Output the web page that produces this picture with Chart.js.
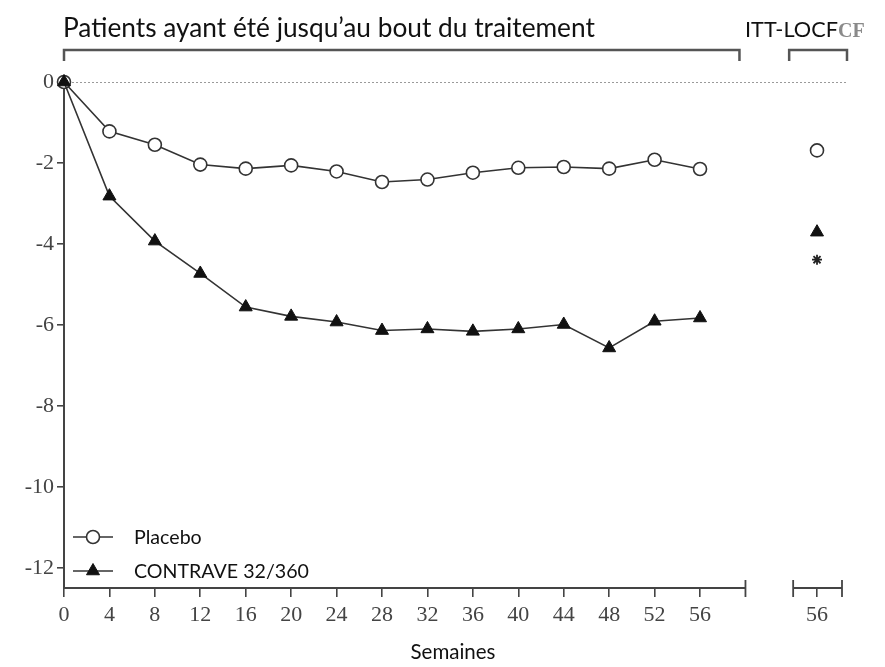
<!DOCTYPE html>
<html>
<head>
<meta charset="utf-8">
<script src="https://cdn.jsdelivr.net/npm/chart.js@4.4.1/dist/chart.umd.min.js"></script>
<style>
  html, body { margin: 0; padding: 0; background: #ffffff; }
  #wrap { width: 885px; height: 667px; }
</style>
</head>
<body>
<div id="wrap"><canvas id="c" width="885" height="667"></canvas></div>
<script>
// ---- Data ----
const weeks = [0, 4, 8, 12, 16, 20, 24, 28, 32, 36, 40, 44, 48, 52, 56];
const placebo = [0, -1.22, -1.55, -2.04, -2.14, -2.06, -2.21, -2.47, -2.41, -2.24, -2.12, -2.10, -2.14, -1.92, -2.15];
const contrave = [0, -2.82, -3.93, -4.73, -5.56, -5.79, -5.93, -6.14, -6.10, -6.16, -6.10, -5.99, -6.57, -5.91, -5.83];
const ittWeekLabel = "56";
const ittPlacebo = -1.69;
const ittContrave = -3.71;
const ittSignificance = -4.39;
const yTicks = [0, -2, -4, -6, -8, -10, -12];
const seriesLabels = ["Placebo", "CONTRAVE 32/360"];
const headerMain = "Patients ayant été jusqu\u2019au bout du traitement";
const headerITT = "ITT-LOCF";
const headerArtifact = "CF";
const xTitle = "Semaines";

// ---- Layout constants ----
const X_MAIN_END = 60;
const ITT_SEG_START = 64.2;
const ITT_POS = 66.3;
const X_MAX = 68.5;
const Y_MIN = -12.5;
const Y_MAX = 0;

const SANS = "Lato, 'Open Sans', sans-serif";
const SERIF = "'Liberation Serif', 'DejaVu Serif', serif";
const INK = '#333333';

// fit font size to a target width
const mctx = document.createElement('canvas').getContext('2d');
function fitSize(text, family, targetW, weight) {
  mctx.font = (weight || 'normal') + ' 20px ' + family;
  return 20 * targetW / mctx.measureText(text).width;
}
const headerSize = fitSize(headerMain, SANS, 532);
const ittSize = fitSize(headerITT, SANS, 93);
const legendSize = fitSize(seriesLabels[1], SANS, 175);
const titleSize = fitSize(xTitle, SANS, 85);

const decor = {
  id: 'decor',
  beforeDatasetsDraw(chart) {
    const ctx = chart.ctx, xs = chart.scales.x, ys = chart.scales.y;
    const y0 = ys.getPixelForValue(0);
    ctx.save();
    ctx.strokeStyle = '#9a9a9a';
    ctx.lineWidth = 1;
    ctx.setLineDash([2, 2]);
    ctx.beginPath();
    ctx.moveTo(xs.getPixelForValue(0), y0 + 0.5);
    ctx.lineTo(xs.getPixelForValue(X_MAX) + 5, y0 + 0.5);
    ctx.stroke();
    ctx.restore();
  },
  afterDraw(chart) {
    const ctx = chart.ctx, xs = chart.scales.x, ys = chart.scales.y;
    const area = chart.chartArea;
    ctx.save();
    // broken x axis
    const yb = area.bottom;
    ctx.strokeStyle = '#444';
    ctx.lineWidth = 2;
    ctx.beginPath();
    ctx.moveTo(xs.getPixelForValue(0) - 1, yb);
    ctx.lineTo(xs.getPixelForValue(X_MAIN_END), yb);
    ctx.moveTo(xs.getPixelForValue(ITT_SEG_START), yb);
    ctx.lineTo(xs.getPixelForValue(X_MAX), yb);
    ctx.stroke();
    ctx.lineWidth = 1.8;
    ctx.beginPath();
    [X_MAIN_END, ITT_SEG_START, X_MAX].forEach(v => {
      const px = xs.getPixelForValue(v);
      ctx.moveTo(px, yb - 8);
      ctx.lineTo(px, yb + 9);
    });
    ctx.stroke();

    // header brackets
    const by = 50, bd = 11;
    ctx.strokeStyle = '#555';
    ctx.lineWidth = 2.5;
    ctx.beginPath();
    const l1 = xs.getPixelForValue(0), r1 = xs.getPixelForValue(X_MAIN_END) - 6;
    ctx.moveTo(l1, by + bd); ctx.lineTo(l1, by); ctx.lineTo(r1, by); ctx.lineTo(r1, by + bd);
    const l2 = xs.getPixelForValue(ITT_SEG_START) - 4, r2 = xs.getPixelForValue(X_MAX) + 5;
    ctx.moveTo(l2, by + bd); ctx.lineTo(l2, by); ctx.lineTo(r2, by); ctx.lineTo(r2, by + bd);
    ctx.stroke();

    // header texts
    ctx.fillStyle = '#111';
    ctx.textBaseline = 'alphabetic';
    ctx.textAlign = 'left';
    ctx.font = headerSize.toFixed(2) + 'px ' + SANS;
    ctx.fillText(headerMain, 63, 37);
    ctx.font = ittSize.toFixed(2) + 'px ' + SANS;
    ctx.fillText(headerITT, 745, 37);
    const ittW = ctx.measureText(headerITT).width;
    ctx.fillStyle = '#8a8a8a';
    ctx.font = 'bold 20px ' + SERIF;
    ctx.fillText(headerArtifact, 745 + ittW, 37);

    // legend (inside plot, bottom-left): Placebo first, then CONTRAVE
    const rows = [1, 0];
    rows.forEach((i, k) => {
      const ds = chart.data.datasets[i];
      const ly = area.bottom - 51 + k * 34;
      const lx0 = area.left + 9, lx1 = area.left + 49;
      ctx.strokeStyle = ds.borderColor;
      ctx.lineWidth = ds.borderWidth;
      ctx.beginPath(); ctx.moveTo(lx0, ly); ctx.lineTo(lx1, ly); ctx.stroke();
      ctx.fillStyle = ds.pointBackgroundColor;
      ctx.strokeStyle = ds.pointBorderColor;
      ctx.lineWidth = ds.pointBorderWidth;
      Chart.helpers.drawPoint(ctx, { pointStyle: ds.pointStyle, radius: ds.pointRadius, rotation: 0, borderWidth: ds.pointBorderWidth }, (lx0 + lx1) / 2, ly);
      ctx.fillStyle = '#111';
      ctx.textBaseline = 'middle';
      ctx.font = legendSize.toFixed(2) + 'px ' + SANS;
      ctx.fillText(ds.label, area.left + 70, ly + 1);
    });
    ctx.restore();
  }
};

const placeboStyle = {
  borderColor: INK, borderWidth: 1.6,
  pointStyle: 'circle', pointRadius: 6.5, pointBackgroundColor: '#ffffff',
  pointBorderColor: INK, pointBorderWidth: 1.6
};
const contraveStyle = {
  borderColor: INK, borderWidth: 1.6,
  pointStyle: 'triangle', pointRadius: 7.5, pointBackgroundColor: '#111111',
  pointBorderColor: '#111111', pointBorderWidth: 1
};

new Chart(document.getElementById('c'), {
  type: 'line',
  data: {
    datasets: [
      Object.assign({ label: seriesLabels[1], data: weeks.map((w, i) => ({ x: w, y: contrave[i] })) }, contraveStyle),
      Object.assign({ label: seriesLabels[0], data: weeks.map((w, i) => ({ x: w, y: placebo[i] })) }, placeboStyle),
      Object.assign({ label: seriesLabels[0] + ' ITT', data: [{ x: ITT_POS, y: ittPlacebo }], showLine: false }, placeboStyle),
      Object.assign({ label: seriesLabels[1] + ' ITT', data: [{ x: ITT_POS, y: ittContrave }], showLine: false }, contraveStyle),
      { label: 'p', data: [{ x: ITT_POS, y: ittSignificance }], showLine: false,
        pointStyle: 'star', pointRadius: 5, borderColor: '#222', pointBorderColor: '#222', pointBorderWidth: 1.8, pointBackgroundColor: '#222' }
    ]
  },
  options: {
    responsive: false,
    animation: false,
    devicePixelRatio: 1,
    clip: false,
    layout: { padding: { top: 82, right: 43, left: 0, bottom: 0 } },
    plugins: { legend: { display: false }, tooltip: { enabled: false } },
    elements: { line: { tension: 0 } },
    scales: {
      x: {
        type: 'linear', min: 0, max: X_MAX,
        afterFit(s) { s.height = 79; },
        afterBuildTicks(s) { s.ticks = weeks.concat([ITT_POS]).map(v => ({ value: v })); },
        border: { display: false },
        grid: { display: true, drawOnChartArea: false, drawTicks: true, tickLength: 9, color: '#444', lineWidth: 1.6 },
        ticks: {
          autoSkip: false, maxRotation: 0, padding: 5, color: '#444',
          font: { family: SERIF, size: 22 },
          callback: (v) => v === ITT_POS ? ittWeekLabel : String(v)
        },
        title: { display: true, text: xTitle, color: '#111', padding: { top: 0, bottom: 2 }, font: { family: SANS, size: titleSize } }
      },
      y: {
        type: 'linear', min: Y_MIN, max: Y_MAX,
        afterFit(s) { s.width = 64; },
        afterBuildTicks(s) { s.ticks = yTicks.map(v => ({ value: v })); },
        border: { display: true, color: '#444', width: 2 },
        grid: { display: true, drawOnChartArea: false, drawTicks: true, tickLength: 7, color: '#444', lineWidth: 1.6 },
        ticks: { padding: 3, color: '#444', font: { family: SERIF, size: 22 }, callback: (v) => String(v) }
      }
    }
  },
  plugins: [decor]
});
</script>
</body>
</html>
